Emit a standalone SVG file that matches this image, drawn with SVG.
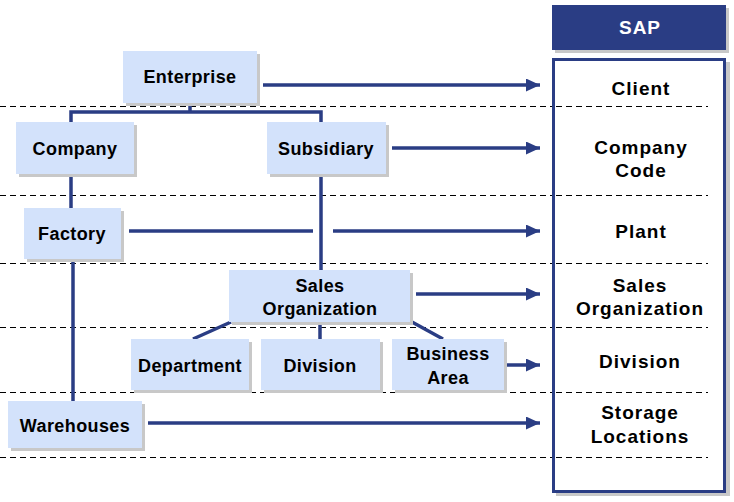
<svg xmlns="http://www.w3.org/2000/svg" width="734" height="502" viewBox="0 0 734 502">
<defs>
<marker id="ah" markerUnits="userSpaceOnUse" markerWidth="15" markerHeight="13" refX="14" refY="6.5" orient="auto">
<path d="M0,0 L14,6.5 L0,13 Z" fill="#2a3d84"/>
</marker>
<style>
.node rect.b{fill:#d3e2fb}
.node rect.s{fill:#c8c8c8}
.t{font-family:"Liberation Sans",Arial,sans-serif;font-weight:bold;font-size:18px;fill:#000;text-anchor:middle;letter-spacing:0.4px}
.r{font-family:"Liberation Sans",Arial,sans-serif;font-weight:bold;font-size:19px;fill:#000;text-anchor:middle;letter-spacing:1px}
.dash{stroke:#000;stroke-width:1;stroke-dasharray:6,4;fill:none}
.c{stroke:#2a3d84;stroke-width:3.5;fill:none}
.a{stroke:#2a3d84;stroke-width:3.5;fill:none;marker-end:url(#ah)}
</style>
</defs>
<rect width="734" height="502" fill="#fff"/>
<g id="separators">
<line class="dash" x1="0" y1="106.5" x2="708" y2="106.5"/>
<line class="dash" x1="0" y1="195.5" x2="708" y2="195.5"/>
<line class="dash" x1="0" y1="263.5" x2="708" y2="263.5"/>
<line class="dash" x1="0" y1="327.5" x2="708" y2="327.5"/>
<line class="dash" x1="0" y1="392.5" x2="708" y2="392.5"/>
<line class="dash" x1="0" y1="457.5" x2="708" y2="457.5"/>
</g>
<g id="sap-header">
<rect x="555" y="8" width="174" height="45" fill="#c8c8c8"/>
<rect x="552" y="5" width="174" height="45" fill="#2a3d84"/>
<text x="640" y="34" class="r" style="fill:#fff">SAP</text>
</g>
<g id="sap-column">
<rect x="556" y="62" width="174" height="434" fill="#c8c8c8"/>
<rect x="553.5" y="59.5" width="171" height="432" fill="#fff" stroke="#2a3d84" stroke-width="3"/>
<line class="dash" x1="556" y1="106.5" x2="708" y2="106.5"/>
<line class="dash" x1="556" y1="195.5" x2="708" y2="195.5"/>
<line class="dash" x1="556" y1="263.5" x2="708" y2="263.5"/>
<line class="dash" x1="556" y1="327.5" x2="708" y2="327.5"/>
<line class="dash" x1="556" y1="392.5" x2="708" y2="392.5"/>
<line class="dash" x1="556" y1="457.5" x2="708" y2="457.5"/>
<text x="641" y="95" class="r">Client</text>
<text x="641" y="154" class="r">Company</text>
<text x="641" y="177" class="r">Code</text>
<text x="641" y="238" class="r">Plant</text>
<text x="640" y="292" class="r">Sales</text>
<text x="640" y="315" class="r">Organization</text>
<text x="640" y="368" class="r">Division</text>
<text x="640" y="419" class="r">Storage</text>
<text x="640" y="443" class="r">Locations</text>
</g>
<g id="connectors">
<polyline class="c" points="190,103 190,112"/>
<polyline class="c" points="71,122 71,112 321,112 321,122"/>
<line class="c" x1="71" y1="174" x2="71" y2="208"/>
<line class="c" x1="321" y1="174" x2="321" y2="270"/>
<line class="c" x1="73" y1="259" x2="73" y2="401"/>
<line class="c" x1="231" y1="322" x2="193" y2="339"/>
<line class="c" x1="320" y1="322" x2="320" y2="339"/>
<line class="c" x1="412" y1="322" x2="443" y2="339"/>
<line class="a" x1="263" y1="85" x2="540" y2="85"/>
<line class="a" x1="392" y1="148" x2="540" y2="148"/>
<line class="c" x1="129" y1="231" x2="313" y2="231"/>
<line class="a" x1="333" y1="231" x2="540" y2="231"/>
<line class="a" x1="416" y1="294" x2="540" y2="294"/>
<line class="a" x1="507" y1="365" x2="540" y2="365"/>
<line class="a" x1="148" y1="423" x2="540" y2="423"/>
</g>
<g id="enterprise" class="node">
<rect class="s" x="126" y="54" width="134" height="52"/>
<rect class="b" x="123" y="51" width="134" height="52"/>
<text x="190" y="83" class="t">Enterprise</text>
</g>
<g id="company" class="node">
<rect class="s" x="19" y="125" width="118" height="52"/>
<rect class="b" x="16" y="122" width="118" height="52"/>
<text x="75" y="155" class="t">Company</text>
</g>
<g id="subsidiary" class="node">
<rect class="s" x="270" y="125" width="119" height="52"/>
<rect class="b" x="267" y="122" width="119" height="52"/>
<text x="326" y="155" class="t">Subsidiary</text>
</g>
<g id="factory" class="node">
<rect class="s" x="27" y="211" width="97" height="51"/>
<rect class="b" x="24" y="208" width="97" height="51"/>
<text x="72" y="240" class="t">Factory</text>
</g>
<g id="sales-organization" class="node">
<rect class="s" x="232" y="273" width="181" height="52"/>
<rect class="b" x="229" y="270" width="181" height="52"/>
<text x="320" y="292" class="t">Sales</text>
<text x="320" y="315" class="t">Organization</text>
</g>
<g id="department" class="node">
<rect class="s" x="134" y="342" width="118" height="51"/>
<rect class="b" x="131" y="339" width="118" height="51"/>
<text x="190" y="372" class="t">Department</text>
</g>
<g id="division" class="node">
<rect class="s" x="264" y="342" width="119" height="51"/>
<rect class="b" x="261" y="339" width="119" height="51"/>
<text x="320" y="372" class="t">Division</text>
</g>
<g id="business-area" class="node">
<rect class="s" x="395" y="342" width="112" height="51"/>
<rect class="b" x="392" y="339" width="112" height="51"/>
<text x="448" y="360" class="t">Business</text>
<text x="448" y="384" class="t">Area</text>
</g>
<g id="warehouses" class="node">
<rect class="s" x="11" y="404" width="134" height="47"/>
<rect class="b" x="8" y="401" width="134" height="47"/>
<text x="75" y="432" class="t">Warehouses</text>
</g>
</svg>
